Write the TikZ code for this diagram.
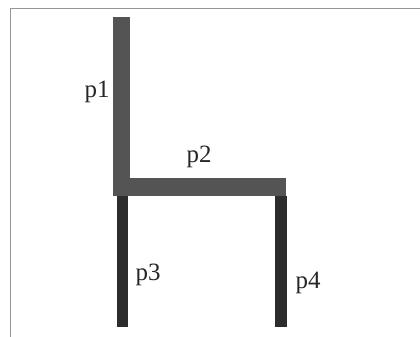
\documentclass[tikz,border=0pt]{standalone}
\usepackage{fontspec}
\setmainfont{Liberation Serif}
\definecolor{seatgray}{RGB}{84,84,84}
\definecolor{leggray}{RGB}{44,44,44}
\definecolor{framegray}{RGB}{150,150,150}
\tikzset{
  lbl/.style={font=\fontsize{25}{27}\selectfont, inner sep=0pt, text=black!85},
  seat/.style={fill=seatgray, draw=none},
  leg/.style={fill=leggray, draw=none}
}
\begin{document}
\begin{tikzpicture}[x=1bp,y=-1bp]
\useasboundingbox (0,0) rectangle (420,337);
\fill[white] (0,0) rectangle (420,337);
% frame
\draw[framegray, line width=0.8bp] (10,337) -- (10,8) -- (420,8);
% legs
\fill[leg] (117,196) rectangle (128,327);
\fill[leg] (275,196) rectangle (287,327);
% back and seat
\fill[seat] (113,17) rectangle (130,196);
\fill[seat] (113,178) rectangle (286,196);
% labels
\node[lbl] (p1) at (97,92) {p1};
\node[lbl] (p2) at (199,157) {p2};
\node[lbl] (p3) at (148,275) {p3};
\node[lbl] (p4) at (308,283) {p4};
\end{tikzpicture}
\end{document}
